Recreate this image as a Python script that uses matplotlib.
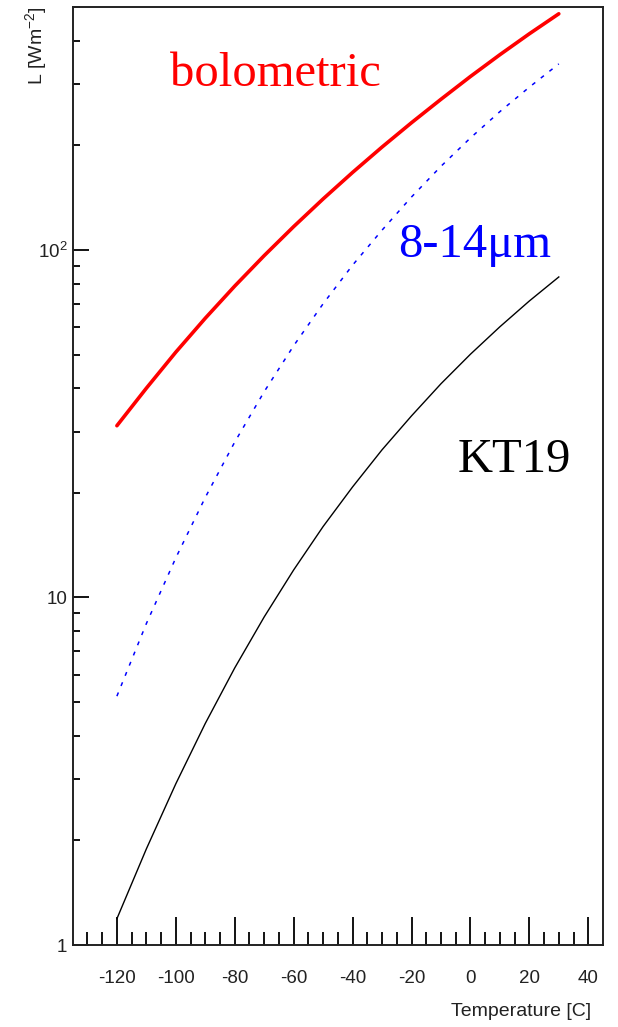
import matplotlib
matplotlib.use("Agg")
import matplotlib.pyplot as plt
from matplotlib.ticker import FixedLocator, FixedFormatter, NullFormatter

plt.rcParams['axes.unicode_minus'] = False

# ---- data ----
temperature = [-120, -110, -100, -90, -80, -70, -60, -50, -40, -30, -20, -10, 0, 10, 20, 30]
bolometric = [31.2, 40.0, 50.8, 63.6, 78.7, 96.3, 116.7, 140.2, 167.1, 197.7, 232.3, 271.3,
              315.5, 364.5, 418.7, 478]
band_8_14 = [5.20, 8.41, 13.0, 19.4, 28.0, 39.1, 53.0, 70.0, 90.4, 114, 142, 174, 210, 250, 294, 343]
kt19 = [1.19, 1.89, 2.91, 4.34, 6.27, 8.79, 12.0, 16.0, 20.8, 26.6, 33.3, 41.2, 50.1, 60.1, 71.3, 83.6]

x_major = [-120, -100, -80, -60, -40, -20, 0, 20, 40]
x_minor = [-130, -125, -115, -110, -105, -95, -90, -85, -75, -70, -65, -55, -50, -45,
           -35, -30, -25, -15, -10, -5, 5, 10, 15, 25, 30, 35]
y_major = [1, 10, 100]
y_major_labels = ['1', '10', r'$\mathregular{10^{2}}$']
y_minor = [m * 10 ** d for d in range(0, 3) for m in range(2, 10) if m * 10 ** d <= 500]

labels = ['bolometric', '8-14\u03bcm', 'KT19']

W, H = 618, 1027
fig = plt.figure(figsize=(W / 100, H / 100), dpi=100)
ax = fig.add_axes([72.7 / W, 1 - 945 / H, (603 - 72.7) / W, (945 - 7) / H])

sans = ['Liberation Sans', 'DejaVu Sans']
serif = ['Liberation Serif', 'DejaVu Serif']

ax.plot(temperature, bolometric, color='#ff0000', lw=2.6, solid_capstyle='round',
        solid_joinstyle='round')
ax.plot(temperature, band_8_14, color='#0000ff', lw=1.1, dashes=(2.6, 4.6))
ax.plot(temperature, kt19, color='black', lw=1.0)

ax.set_yscale('log')
ax.set_xlim(-135, 45)
ax.set_ylim(1, 500)

ax.xaxis.set_major_locator(FixedLocator(x_major))
ax.xaxis.set_minor_locator(FixedLocator(x_minor))
ax.yaxis.set_major_locator(FixedLocator(y_major))
ax.yaxis.set_major_formatter(FixedFormatter(y_major_labels))
ax.yaxis.set_minor_locator(FixedLocator(y_minor))
ax.yaxis.set_minor_formatter(NullFormatter())

ax.tick_params(axis='x', which='major', direction='in', length=20, width=1.3,
               pad=18, labelsize=13.5, top=False)
ax.tick_params(axis='x', which='minor', direction='in', length=9.6, width=1.3, top=False)
ax.tick_params(axis='y', which='major', direction='in', length=11.3, width=1.3,
               pad=4, labelsize=13.5, right=False)
ax.tick_params(axis='y', which='minor', direction='in', length=5.3, width=1.3, right=False)
for lab in ax.get_xticklabels() + ax.get_yticklabels():
    lab.set_family(sans)
    lab.set_color('#222222')
for s in ax.spines.values():
    s.set_linewidth(1.4)
    s.set_color('#222222')

fig.text(36 / W, 1 - 6 / H, r'L [Wm$\mathregular{^{-2}}$]', rotation=90, ha='center', va='top',
         fontsize=14, family=sans, color='#222222')
fig.text(591 / W, 1 - 1012 / H, 'Temperature [C]', ha='right', va='center',
         fontsize=14, family=sans, color='#222222')

fig.text(170 / W, 1 - 86 / H, labels[0], color='#ff0000', fontsize=35, family=serif,
         ha='left', va='baseline')
fig.text(398 / W, 1 - 257 / H, labels[1], color='#0000ff', fontsize=35, family=serif,
         ha='left', va='baseline')
fig.text(458 / W, 1 - 472 / H, labels[2], color='black', fontsize=35, family=serif,
         ha='left', va='baseline')

fig.savefig('out.png', dpi=100)
